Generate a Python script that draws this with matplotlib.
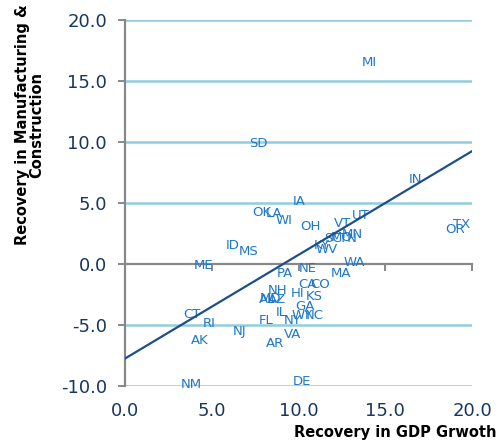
import numpy as np
import matplotlib
matplotlib.use("Agg")
import matplotlib.pyplot as plt

# state labels with (gdp recovery, manufacturing & construction recovery)
states = ["MI", "SD", "IN", "IA", "OK", "LA", "WI", "OH", "VT", "UT",
          "SC", "MO", "MN", "TN", "KY", "WV", "ID", "MS", "ME", "TX",
          "OR", "PA", "NE", "MA", "WA", "CA", "CO", "NH", "HI", "KS",
          "MD", "AZ", "AL", "IL", "GA", "NY", "WY", "NC", "FL", "VA",
          "AR", "NJ", "RI", "CT", "AK", "NM", "DE"]
gdp = [14.06, 7.67, 16.77, 10.03, 7.90, 8.59, 9.16, 10.66, 12.56, 13.60,
       11.99, 12.51, 13.08, 12.85, 11.35, 11.64, 6.22, 7.15, 4.55, 19.42,
       19.02, 9.22, 10.55, 12.45, 13.20, 10.49, 11.24, 8.82, 9.97, 10.89,
       8.36, 8.76, 8.18, 8.99, 10.37, 9.68, 10.20, 10.89, 8.13, 9.68,
       8.65, 6.63, 4.84, 3.86, 4.32, 3.80, 10.20]
manuf = [16.5, 9.9, 6.9, 5.1, 4.2, 4.1, 3.6, 3.1, 3.3, 4.0,
         2.1, 2.2, 2.4, 2.05, 1.55, 1.15, 1.5, 1.05, -0.15, 3.2,
         2.8, -0.8, -0.35, -0.75, 0.1, -1.7, -1.65, -2.2, -2.45, -2.7,
         -2.8, -2.95, -2.95, -4.0, -3.45, -4.65, -4.2, -4.25, -4.65, -5.75,
         -6.5, -5.5, -4.9, -4.1, -6.3, -9.85, -9.6]

# linear trend line (slope, intercept)
trend_slope = 0.85
trend_intercept = -7.75
trend_x = [0, 20]

label_color = "#1E78C8"
tick_color = "#17375E"
grid_color = "#93CDDD"
axis_color = "#888888"

plt.rcParams['font.family'] = ['DejaVu Sans']

fig = plt.figure(figsize=(5, 4.45), dpi=100)
ax = fig.add_axes([0.25, 0.1326, 0.694, 0.8224])

for y in [-10, -5, 5, 10, 15, 20]:
    ax.axhline(y, color=grid_color, lw=1.8, zorder=1)

for s, x, y in zip(states, gdp, manuf):
    ax.text(x, y, s, color=label_color, fontsize=9.5, ha="center", va="center", zorder=3)

ty = [trend_slope * x + trend_intercept for x in trend_x]
ax.plot(trend_x, ty, color="#1F4E8C", lw=1.6, zorder=4)

ax.set_xlim(0, 20)
ax.set_ylim(-10, 20)
ax.set_xticks(np.arange(0, 21, 5))
ax.set_yticks(np.arange(-10, 21, 5))
ax.set_xticklabels([f"{v:.1f}" for v in np.arange(0, 21, 5)])
ax.set_yticklabels([f"{v:.1f}" for v in np.arange(-10, 21, 5)])

ax.spines["top"].set_visible(False)
ax.spines["right"].set_visible(False)
ax.spines["bottom"].set_position(("data", 0))
ax.spines["bottom"].set_color(axis_color)
ax.spines["left"].set_color(axis_color)
ax.spines["bottom"].set_linewidth(1.6)
ax.spines["left"].set_linewidth(1.6)
ax.spines["bottom"].set_zorder(2)

ax.tick_params(axis="y", colors=axis_color, labelcolor=tick_color, labelsize=13,
               length=5, width=1.4, pad=8)
ax.tick_params(axis="x", colors=axis_color, labelcolor=tick_color, labelsize=13,
               length=5, width=1.4, pad=94)

fig.text(0.994, 0.028, "Recovery in GDP Grwoth", fontsize=10.5, fontweight="bold",
         ha="right", va="center", color="black")
fig.text(0.06, 0.72, "Recovery in Manufacturing &\nConstruction", fontsize=10.5,
         fontweight="bold", rotation=90, ha="center", va="center",
         multialignment="center", color="black", linespacing=0.95)

fig.savefig("out.png", dpi=100)
